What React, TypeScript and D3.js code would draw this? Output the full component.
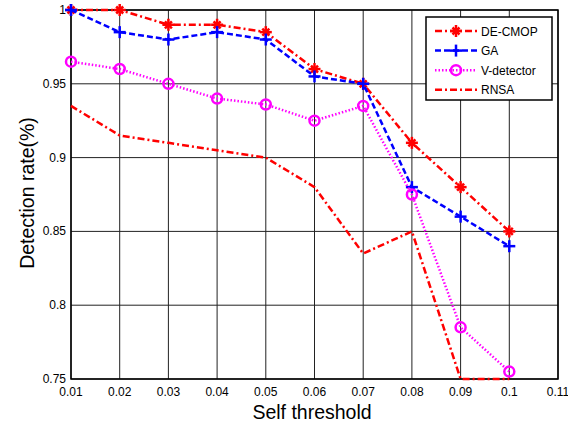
import React from "react";
import * as d3 from "d3";

const thresholds = [0.01, 0.02, 0.03, 0.04, 0.05, 0.06, 0.07, 0.08, 0.09, 0.1];
const deCmop = [1, 1, 0.99, 0.99, 0.985, 0.96, 0.95, 0.91, 0.88, 0.85];
const ga = [1, 0.985, 0.98, 0.985, 0.98, 0.955, 0.95, 0.88, 0.86, 0.84];
const vDetector = [0.965, 0.96, 0.95, 0.94, 0.936, 0.925, 0.935, 0.875, 0.785, 0.755];
const rnsa = [0.935, 0.915, 0.91, 0.905, 0.9, 0.88, 0.835, 0.85, 0.75, 0.75];
const xTicks = [0.01, 0.02, 0.03, 0.04, 0.05, 0.06, 0.07, 0.08, 0.09, 0.1, 0.11];
const yTicks = [0.75, 0.8, 0.85, 0.9, 0.95, 1];
const seriesNames = ["DE-CMOP", "GA", "V-detector", "RNSA"];

const W = 568, H = 424;
const L = 71, R = 558, T = 10, B = 379;

type Series = { name: string; values: number[]; color: string; dash: string; marker: string };

const series: Series[] = [
  { name: seriesNames[0], values: deCmop, color: "#ff0000", dash: "7 3 2 3", marker: "star" },
  { name: seriesNames[1], values: ga, color: "#0000ff", dash: "6 3", marker: "plus" },
  { name: seriesNames[2], values: vDetector, color: "#ff00ff", dash: "1.5 2", marker: "circle" },
  { name: seriesNames[3], values: rnsa, color: "#ff0000", dash: "7 3 2 3", marker: "none" },
];

function Marker({ type, x, y, color }: { type: string; x: number; y: number; color: string }) {
  if (type === "plus") {
    return (
      <g stroke={color} strokeWidth={2.5}>
        <line x1={x - 6} x2={x + 6} y1={y} y2={y} />
        <line x1={x} x2={x} y1={y - 6} y2={y + 6} />
      </g>
    );
  }
  if (type === "star") {
    return (
      <g stroke={color} strokeWidth={2.5}>
        <line x1={x - 6} x2={x + 6} y1={y} y2={y} />
        <line x1={x} x2={x} y1={y - 6} y2={y + 6} />
        <line x1={x - 3.5} x2={x + 3.5} y1={y - 3.5} y2={y + 3.5} />
        <line x1={x - 3.5} x2={x + 3.5} y1={y + 3.5} y2={y - 3.5} />
      </g>
    );
  }
  if (type === "circle") {
    return <circle cx={x} cy={y} r={5} fill="none" stroke={color} strokeWidth={2.5} />;
  }
  return null;
}

export default function App() {
  const x = d3.scaleLinear().domain([0.01, 0.11]).range([L, R]);
  const y = d3.scaleLinear().domain([0.75, 1]).range([B, T]);
  const line = d3
    .line<number>()
    .x((_, i) => x(thresholds[i]))
    .y((d) => y(d));
  const font = "Liberation Sans, Arial, sans-serif";

  return (
    <svg width={W} height={H} style={{ position: "absolute", left: 0, top: 0, background: "#fff" }}>
      <rect x={0} y={0} width={W} height={H} fill="#fff" />
      <g stroke="#222" strokeWidth={1}>
        {xTicks.map((t) => (
          <line key={"gx" + t} x1={x(t)} x2={x(t)} y1={T} y2={B} />
        ))}
        {yTicks.map((t) => (
          <line key={"gy" + t} x1={L} x2={R} y1={y(t)} y2={y(t)} />
        ))}
      </g>
      <rect x={L} y={T} width={R - L} height={B - T} fill="none" stroke="#000" strokeWidth={1.5} />
      <g fontFamily={font} fontSize={12} fill="#000">
        {xTicks.map((t) => (
          <text key={"tx" + t} x={x(t)} y={B + 17} textAnchor="middle">
            {d3.format("~g")(t)}
          </text>
        ))}
        {yTicks.map((t) => (
          <text key={"ty" + t} x={L - 5} y={y(t) + 4} textAnchor="end">
            {d3.format("~g")(t)}
          </text>
        ))}
      </g>
      <text x={312} y={419} textAnchor="middle" fontFamily={font} fontSize={19.5}>
        Self threshold
      </text>
      <text
        transform={`translate(34,193) rotate(-90)`}
        textAnchor="middle"
        fontFamily={font}
        fontSize={19.5}
      >
        Detection rate(%)
      </text>
      {series.map((s) => (
        <g key={s.name}>
          <path
            d={line(s.values) || ""}
            fill="none"
            stroke={s.color}
            strokeWidth={2.5}
            strokeDasharray={s.dash}
          />
          {s.values.map((v, i) => (
            <Marker key={i} type={s.marker} x={x(thresholds[i])} y={y(v)} color={s.color} />
          ))}
        </g>
      ))}
      <g>
        <rect x={426} y={17} width={126} height={83} fill="#fff" stroke="#000" strokeWidth={1.5} />
        {series.map((s, i) => {
          const ly = 31 + i * 19.6;
          return (
            <g key={"lg" + s.name}>
              <line x1={435} x2={477} y1={ly} y2={ly} stroke={s.color} strokeWidth={2.5} strokeDasharray={s.dash} />
              <Marker type={s.marker} x={456} y={ly} color={s.color} />
              <text x={481} y={ly + 4.5} fontFamily={font} fontSize={12}>
                {s.name}
              </text>
            </g>
          );
        })}
      </g>
    </svg>
  );
}
